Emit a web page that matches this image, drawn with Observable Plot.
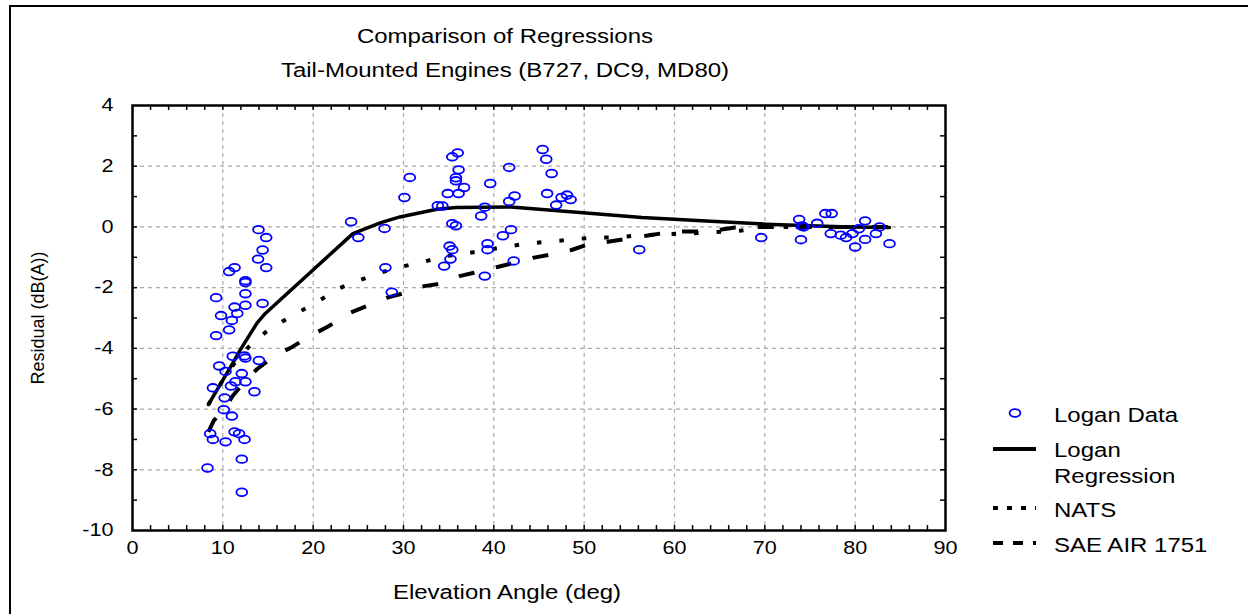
<!DOCTYPE html>
<html>
<head>
<meta charset="utf-8">
<script src="https://cdn.jsdelivr.net/npm/d3@7"></script>
<script src="https://cdn.jsdelivr.net/npm/@observablehq/plot@0.6"></script>
<style>
  body { margin: 0; background: #fff; font-family: "Liberation Sans", Arial, sans-serif; }
  #fig { position: relative; width: 1248px; height: 614px; overflow: hidden; background: #fff; }
  .border { position: absolute; left: 9px; top: 5px; width: 1260px; height: 640px;
            border-left: 2px solid #000; border-top: 2px solid #000; }
  .t { position: absolute; white-space: nowrap; line-height: 1; color: #000;
       font-family: "Liberation Sans", Arial, sans-serif; }
  .legend { position: absolute; left: 0; top: 0; }
</style>
</head>
<body>
<div id="fig"></div>
<script>
// Logan measurements: elevation angle (deg) and residual (dB(A))
const loganAngle = [
  10.7, 11.3, 12.5, 12.5, 9.26, 12.5, 11.3, 12.5, 14.4, 9.8,
  11.6, 11.0, 10.7, 9.26, 11.1, 12.4, 12.5, 14.0, 9.6, 10.3,
  12.1, 10.9, 11.4, 12.5, 8.9, 13.5, 10.2, 10.1, 11.0, 8.6,
  8.9, 10.3, 11.3, 11.8, 12.4, 12.1, 8.3, 12.1, 13.95, 14.8,
  14.4, 13.9, 14.8,
  24.2, 25.0, 27.9, 28.0, 28.7, 30.7, 30.1, 36.0, 35.4, 36.1,
  35.8, 35.8, 36.7, 34.9, 36.1, 39.6, 41.7, 42.3, 41.7, 33.8,
  34.3, 39.0, 38.6, 35.4, 35.8, 41.9, 41.0, 35.1, 35.4, 35.2,
  34.5, 39.3, 39.3, 42.2, 39.0, 45.4, 45.8, 46.4, 45.9, 46.9,
  47.5, 48.1, 48.5, 56.1,
  69.6, 73.8, 74.1, 74.3, 74.0, 75.8, 76.7, 77.4, 77.3, 78.4,
  79.0, 79.7, 80.4, 80.0, 81.1, 81.1, 82.3, 82.7, 83.8
];
const loganResidual = [
  -1.47, -1.34, -1.77, -1.83, -2.33, -2.2, -2.64, -2.58, -2.52, -2.92,
  -2.85, -3.08, -3.39, -3.58, -4.26, -4.25, -4.32, -4.4, -4.58, -4.76,
  -4.83, -5.24, -5.1, -5.1, -5.3, -5.43, -5.63, -6.02, -6.23, -6.81,
  -7.0, -7.08, -6.75, -6.81, -7.0, -7.65, -7.94, -8.74, -0.09, -0.35,
  -0.76, -1.06, -1.34,
  0.17, -0.35, -0.05, -1.34, -2.15, 1.63, 0.97, 2.44, 2.31, 1.88,
  1.52, 1.62, 1.30, 1.10, 1.10, 1.43, 1.96, 1.02, 0.84, 0.70,
  0.69, 0.65, 0.36, 0.11, 0.04, -0.09, -0.29, -0.63, -0.75, -1.06,
  -1.29, -0.55, -0.75, -1.12, -1.62, 2.55, 2.23, 1.76, 1.10, 0.72,
  0.97, 1.05, 0.90, -0.75,
  -0.35, 0.25, 0.03, 0.0, -0.42, 0.12, 0.44, 0.44, -0.22, -0.27,
  -0.35, -0.22, -0.06, -0.66, 0.2, -0.41, -0.22, 0.0, -0.55
];

// Logan regression curve
const regressionAngle    = [8.4, 10.8, 12.1, 13.8, 14.7, 24.4, 27.5, 29.6, 33.7, 35.8, 41.9, 47.1, 56.4, 63.0, 70.1, 79.3, 83.8];
const regressionResidual = [-5.85, -4.64, -3.97, -3.16, -2.85, -0.22, 0.14, 0.33, 0.58, 0.64, 0.66, 0.53, 0.31, 0.2, 0.09, 0.0, -0.02];

// NATS curve
const natsAngle    = [8.4, 10.6, 12.1, 13.6, 15.5, 18.1, 20.6, 22.9, 25.3, 27.6, 30.1, 32.3, 34.7, 36.7, 39.1, 41.5, 43.8, 46.2, 48.6, 50.9, 53.1, 55.6, 60.3, 63.0, 67.4, 69.7, 83.8];
const natsResidual = [-5.85, -4.75, -4.2, -3.72, -3.3, -2.86, -2.44, -2.02, -1.74, -1.49, -1.29, -1.14, -0.96, -0.88, -0.77, -0.64, -0.55, -0.48, -0.42, -0.35, -0.35, -0.29, -0.22, -0.2, -0.12, 0.0, 0.0];

// SAE AIR 1751 curve
const saeAngle    = [8.4, 9.0, 10.4, 11.1, 12.5, 13.8, 16.0, 17.4, 20.0, 21.7, 24.1, 25.9, 28.2, 29.8, 32.3, 34.1, 36.2, 37.8, 40.4, 41.9, 44.3, 46.1, 48.6, 50.3, 52.8, 54.3, 56.7, 58.4, 61.0, 62.8, 64.9, 66.7, 69.7, 83.8];
const saeResidual = [-6.75, -6.38, -5.9, -5.56, -5.07, -4.68, -4.19, -4.0, -3.54, -3.27, -2.83, -2.61, -2.33, -2.2, -1.95, -1.87, -1.62, -1.51, -1.32, -1.21, -1.02, -0.92, -0.76, -0.59, -0.48, -0.41, -0.3, -0.22, -0.15, -0.15, -0.1, -0.02, 0.0, 0.0];

// Axis ticks
const xTicks = [0, 10, 20, 30, 40, 50, 60, 70, 80, 90];
const yTicks = [-10, -8, -6, -4, -2, 0, 2, 4];
const xMinor = d3.range(2, 90, 2);
const yMinor = d3.range(-9, 4, 1);

const legendLabels = ["Logan Data", "Logan", "Regression", "NATS", "SAE AIR 1751"];

const points = loganAngle.map((x, i) => ({x, y: loganResidual[i]}));
const regression = regressionAngle.map((x, i) => ({x, y: regressionResidual[i]}));
const nats = natsAngle.map((x, i) => ({x, y: natsResidual[i]}));
const sae = saeAngle.map((x, i) => ({x, y: saeResidual[i]}));

// open elliptical marker
const ellipse = {
  draw(context) {
    const rx = 5.4, ry = 3.8, k = 0.5523;
    context.moveTo(rx, 0);
    context.bezierCurveTo(rx, ry * k, rx * k, ry, 0, ry);
    context.bezierCurveTo(-rx * k, ry, -rx, ry * k, -rx, 0);
    context.bezierCurveTo(-rx, -ry * k, -rx * k, -ry, 0, -ry);
    context.bezierCurveTo(rx * k, -ry, rx, -ry * k, rx, 0);
    context.closePath();
  }
};

const W = 1248, H = 614;
const mL = 132, mR = 303, mT = 105, mB = 84;
const frameW = W - mL - mR, frameH = H - mT - mB;
const tickLen = 5;
const fmt = d => String(d);
const grid = {stroke: "#aaa", strokeOpacity: 1, strokeWidth: 1.2, strokeDasharray: "4,4"};

const chart = Plot.plot({
  width: W,
  height: H,
  marginLeft: mL,
  marginRight: mR,
  marginTop: mT,
  marginBottom: mB,
  style: {position: "absolute", left: "0px", top: "0px", fontFamily: "'Liberation Sans', Arial, sans-serif", background: "white", maxWidth: "none"},
  x: {domain: [0, 90]},
  y: {domain: [-10, 4]},
  marks: [
    Plot.gridX(xTicks.filter(v => v > 0 && v < 90), grid),
    Plot.gridY(yTicks.filter(v => v > -10 && v < 4), grid),
    // inward minor ticks on all four sides
    Plot.tickX(xMinor, {x: d => d, insetTop: frameH - tickLen, strokeWidth: 1.5}),
    Plot.tickX(xMinor, {x: d => d, insetBottom: frameH - tickLen, strokeWidth: 1.5}),
    Plot.tickY(yMinor, {y: d => d, insetRight: frameW - tickLen, strokeWidth: 1.5}),
    Plot.tickY(yMinor, {y: d => d, insetLeft: frameW - tickLen, strokeWidth: 1.5}),
    Plot.axisX(xTicks, {tickSize: 0, tickPadding: 11, fontSize: 18, tickFormat: fmt, label: null}),
    Plot.axisY(yTicks, {tickSize: 0, tickPadding: 19, fontSize: 18, tickFormat: fmt, label: null}),
    Plot.frame({stroke: "black", strokeWidth: 2.5}),
    Plot.line(sae, {x: "x", y: "y", stroke: "black", strokeWidth: 4, strokeDasharray: "16,22", strokeLinecap: "butt"}),
    Plot.line(nats, {x: "x", y: "y", stroke: "black", strokeWidth: 4, strokeDasharray: "4.5,18", strokeLinecap: "butt"}),
    Plot.line(regression, {x: "x", y: "y", stroke: "black", strokeWidth: 3.5}),
    Plot.dot(points, {x: "x", y: "y", symbol: ellipse, stroke: "#0000ff", strokeWidth: 1.8, fill: "none"})
  ]
});

// widen the horizontal tick labels around their anchors
chart.querySelectorAll('g[aria-label="x-axis tick label"] text, g[aria-label="y-axis tick label"] text').forEach(t => {
  const tr = t.getAttribute("transform") || "";
  t.setAttribute("transform", tr + " scale(1.2,1)");
});

const fig = document.getElementById("fig");
fig.appendChild(chart);

const border = document.createElement("div");
border.className = "border";
fig.appendChild(border);

function addText(str, {left, top, size, anchor = "middle", sx = 1.2, rotate = 0}) {
  const d = document.createElement("div");
  d.className = "t";
  d.textContent = str;
  d.style.fontSize = size + "px";
  d.style.left = left + "px";
  d.style.top = top + "px";
  if (rotate) {
    d.style.transformOrigin = "0 0";
    d.style.transform = `rotate(${rotate}deg) translate(-50%, -50%)`;
  } else if (anchor === "middle") {
    d.style.transform = `translateX(-50%) scaleX(${sx})`;
  } else {
    d.style.transformOrigin = "0 0";
    d.style.transform = `scaleX(${sx})`;
  }
  fig.appendChild(d);
  return d;
}

addText("Comparison of Regressions", {left: 505, top: 26, size: 20});
addText("Tail-Mounted Engines (B727, DC9, MD80)", {left: 505, top: 60, size: 20});
addText("Elevation Angle (deg)", {left: 507, top: 582, size: 20});
addText("Residual (dB(A))", {left: 38, top: 318, size: 18, rotate: -90});

// legend
const legend = d3.select(fig).append("svg")
  .attr("class", "legend").attr("width", W).attr("height", H);
legend.append("path")
  .attr("d", d3.symbol(ellipse)())
  .attr("transform", "translate(1015,413)")
  .attr("fill", "none").attr("stroke", "#0000ff").attr("stroke-width", 1.8);
const sample = (y, dash, w) => legend.append("line")
  .attr("x1", 993).attr("x2", 1036).attr("y1", y).attr("y2", y)
  .attr("stroke", "black").attr("stroke-width", w)
  .attr("stroke-dasharray", dash);
sample(449, null, 4);
sample(508, "5,9", 4);
sample(543, "10,10", 4);

const legendTops = [405, 440, 466, 500, 535];
legendLabels.forEach((s, i) => addText(s, {left: 1054, top: legendTops[i], size: 20, anchor: "start", sx: 1.2}));
</script>
</body>
</html>
